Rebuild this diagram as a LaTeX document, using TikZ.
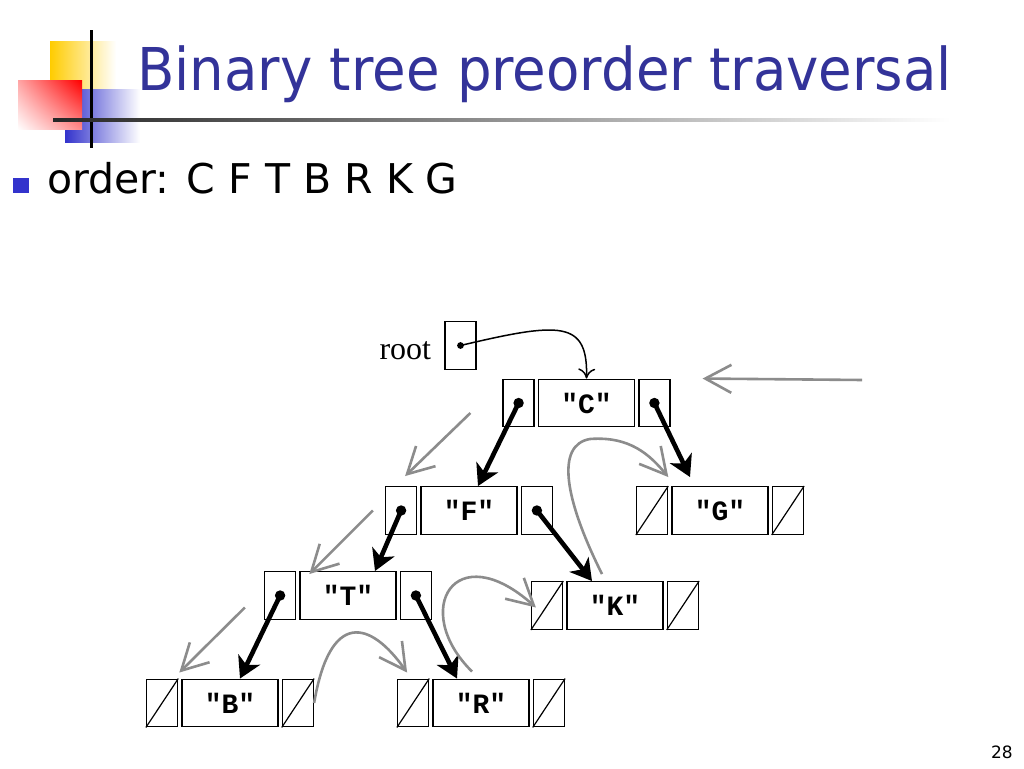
\documentclass[tikz,border=0pt]{standalone}
\usepackage{fontspec}
\setmainfont{DejaVu Sans}
\newfontfamily\titlefont[FakeStretch=0.925]{DejaVu Sans}
\newfontfamily\codefont{Liberation Mono}
\newfontfamily\rootfont{Liberation Serif}
\usetikzlibrary{positioning,arrows.meta,shadings}
\definecolor{titleblue}{HTML}{333399}
\definecolor{bulletblue}{HTML}{3333CC}
\definecolor{logoyellow}{HTML}{FFCC00}
\definecolor{logored}{HTML}{FF0000}
\definecolor{walkgray}{HTML}{8C8C8C}
\newcommand{\listnode}[3]{%
  \node[datacell] (#1) at #2 {#3};
  \node[ptrcell, left=3pt of #1] (#1l) {};
  \node[ptrcell, right=3pt of #1] (#1r) {};
}
\newcommand{\nullcell}[1]{\draw[line width=1.2pt] (#1.south west) -- (#1.north east);}

\begin{document}
\begin{tikzpicture}[x=1pt,y=1pt,
  ptrcell/.style={draw, line width=1.4pt, inner sep=0, minimum width=31pt, minimum height=47.5pt},
  datacell/.style={draw, line width=1.4pt, inner sep=0, minimum width=96pt, minimum height=47.5pt,
    font=\codefont\bfseries\fontsize{28}{30}\selectfont},
  ptr/.style={line width=4.6pt, -{Stealth[length=21pt,width=24pt,inset=6pt]}},
  walk/.style={walkgray, line width=2.6pt, -{Straight Barb[length=26pt,width=28pt,line width=2.6pt]}}]
  \path[use as bounding box, fill=white] (0,0) rectangle (1024,768);

  \shade[left color=logoyellow, middle color=logoyellow, right color=white] (50,656) rectangle (116,726);
  \shade[left color=bulletblue, middle color=bulletblue, right color=white] (65,625) rectangle (140,678);
  \shade[upper right=logored, upper left=logored!35, lower right=logored!45, lower left=white] (18,638) rectangle (82,687);
  \fill (89.5,620) rectangle (92.5,738);
  \shade[left color=black!85, right color=white] (53,646.5) rectangle (950,649.5);

  \node[anchor=base west, inner sep=0, text=titleblue, font=\titlefont\fontsize{59}{62}\selectfont] (title) at (137,677) {Binary tree preorder traversal};
  \fill[bulletblue] (13,575) rectangle (29,590);
  \node[anchor=base west, inner sep=0, font=\fontsize{41}{44}\selectfont] (order) at (47,574) {order: C F T B R K G};
  \node[anchor=base east, inner sep=0, font=\fontsize{17}{18}\selectfont] (pagenum) at (1013,10) {28};

  \node[ptrcell] (rp) at (460.5,422.5) {};
  \node[inner sep=0, left=13pt of rp, yshift=-5pt, font=\rootfont\fontsize{32}{34}\selectfont] (rootlabel) {root};

  \listnode{c}{(586.5,365)}{"C"}
  \listnode{f}{(469,257.5)}{"F"}
  \listnode{g}{(720,257.5)}{"G"}
  \listnode{t}{(348,172.5)}{"T"}
  \listnode{k}{(615,162.5)}{"K"}
  \listnode{b}{(230,65)}{"B"}
  \listnode{r}{(481,65)}{"R"}
  \nullcell{gl} \nullcell{gr}
  \nullcell{kl} \nullcell{kr}
  \nullcell{bl} \nullcell{br}
  \nullcell{rl} \nullcell{rr}

  \fill (rp.center) circle (3.4);
  \draw[line width=1.5pt, -{To[length=10pt,width=17pt]}] (rp.center) .. controls (560,446) and (588,448) .. (c.north);

  \foreach \p in {cl,cr,fl,fr,tl,tr} \fill (\p.center) circle (5.2);
  \draw[ptr] (cl.center) -- ([xshift=9pt]f.north);
  \draw[ptr] (cr.center) -- ([xshift=-30pt,yshift=9pt]g.north);
  \draw[ptr] (fl.center) -- ([xshift=27pt]t.north);
  \draw[ptr] (fr.center) -- ([xshift=-23pt]k.north);
  \draw[ptr] (tl.center) -- ([xshift=10pt]b.north);
  \draw[ptr] (tr.center) -- ([xshift=-24pt]r.north);

  \coordinate (entry) at (862,388);
  \draw[walk] (entry) -- ([xshift=32pt]cr.north east);
  \draw[walk] ([shift={(-32,-10)}]cl.west) -- ([shift={(4,10)}]fl.north);
  \draw[walk] ([xshift=-12pt]fl.west) -- ([shift={(10,-3)}]t.north west);
  \draw[walk] ([shift={(-19,-12)}]tl.west) -- ([shift={(-2,6)}]b.north west);
  \draw[walk] (br.east) .. controls (330,158) and (370,148) .. ([shift={(-6,6)}]rl.north);
  \draw[walk] ([shift={(-9,7)}]r.north) .. controls (410,158) and (455,233) .. ([shift={(5,-2)}]kl.west);
  \draw[walk] ([shift={(-13,7)}]k.north) .. controls (565,268) and (555,323) .. (590,329)
    .. controls (630,332) and (650,313) .. ([yshift=9pt]gl.north east);
\end{tikzpicture}
\end{document}
